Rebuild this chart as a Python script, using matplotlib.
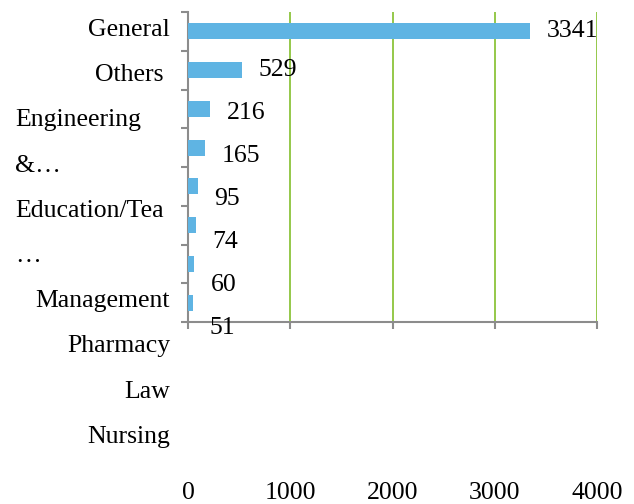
import matplotlib.pyplot as plt

# categories top to bottom (label text wrapped as in the original)
categories = ["General", "Others ", "Engineering\n&…", "Education/Tea\n…",
              "Management", "Pharmacy", "Law", "Nursing"]
values = [3341, 529, 216, 165, 95, 74, 60, 51]
xticks = [0, 1000, 2000, 3000, 4000]

plt.rcParams['font.family'] = ['Liberation Serif', 'DejaVu Serif']
plt.rcParams['font.size'] = 18.5

fig = plt.figure(figsize=(6.34, 5.04), dpi=100)
W, H = 634, 504
ax = fig.add_axes([188 / W, 1 - 322 / H, (597 - 188) / W, (322 - 12) / H])

pos = list(range(len(values)))
ax.barh(pos, values, height=0.41, color='#5FB4E3', zorder=3)
ax.set_ylim(len(values) - 0.5, -0.5)
ax.set_xlim(0, 4000)

# value labels (they drift downward in the original)
for i, v in enumerate(values):
    dy = max(0, i - 1) * 4.3 * 0.72
    ax.annotate(str(v), (v, i), xytext=(12, -dy), textcoords='offset points',
                va='center', ha='left', zorder=4)

# axes styling
for s in ['top', 'right']:
    ax.spines[s].set_visible(False)
for s in ['left', 'bottom']:
    ax.spines[s].set_color('#8C8C8C')
    ax.spines[s].set_linewidth(1.5)

ax.set_xticks(xticks)
ax.set_xticklabels([str(t) for t in xticks])
ax.tick_params(axis='x', length=5, width=1.5, color='#8C8C8C', pad=110)
ax.set_yticks([p - 0.5 for p in pos] + [len(values) - 0.5])
ax.set_yticklabels([])
ax.tick_params(axis='y', length=5, width=1.5, color='#8C8C8C')
ax.grid(axis='x', color='#8CC43C', linewidth=1.3, zorder=1)
ax.set_axisbelow(True)

# category labels as in the original: one line every ~45 px from the top
line = 0
for c in categories:
    parts = c.split("\n")
    for p in parts:
        yf = 1 - (30 + 45.2 * line) / H
        if len(parts) > 1:
            fig.text(15 / W, yf, p, ha='left', va='center')
        else:
            fig.text(170 / W, yf, p, ha='right', va='center')
        line += 1

fig.savefig('out.png', dpi=100)
